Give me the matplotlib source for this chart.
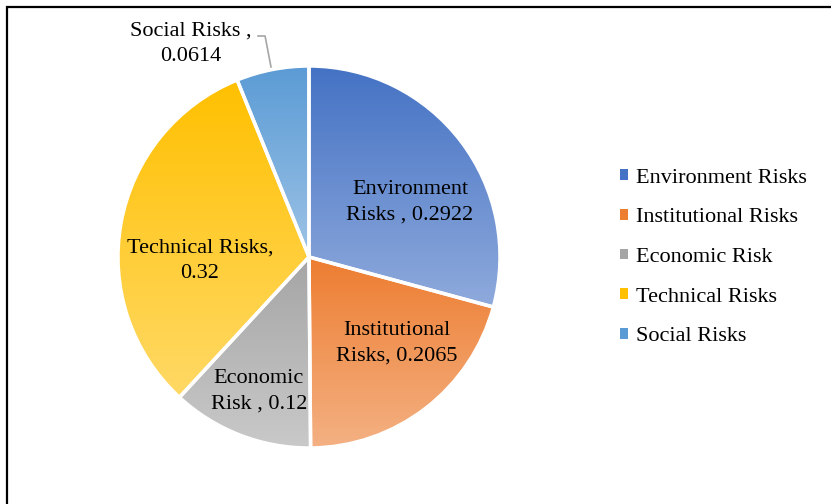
import numpy as np
import matplotlib
matplotlib.use('Agg')
import matplotlib.pyplot as plt
from matplotlib.colors import LinearSegmentedColormap
from matplotlib.patches import Patch, Rectangle
from matplotlib.lines import Line2D

# data
categories = ['Environment Risks', 'Institutional Risks', 'Economic Risk', 'Technical Risks', 'Social Risks']
values = [0.2922, 0.2065, 0.12, 0.32, 0.0614]
slice_labels = ['Environment\nRisks , 0.2922', 'Institutional\nRisks, 0.2065',
                'Economic\nRisk , 0.12', 'Technical Risks,\n0.32', 'Social Risks ,\n0.0614']
# gradient colours top -> bottom
top_colors = ['#4472C4', '#ED7D31', '#A5A5A5', '#FFC000', '#5B9BD5']
bottom_colors = ['#8FAADC', '#F4B183', '#C9C9C9', '#FFD966', '#9DC3E6']

plt.rcParams['font.family'] = ['Liberation Serif', 'DejaVu Serif']
fs = 16

W, H = 831, 504
fig = plt.figure(figsize=(W / 100, H / 100), dpi=100)

# pie centre (309,257) px, radius 191 px
R = 191
half = 200
ax = fig.add_axes([(309 - half) / W, (H - 257 - half) / H, 2 * half / W, 2 * half / H])
ax.set_aspect('equal')
ax.axis('off')

wedges, _ = ax.pie(values, startangle=90, counterclock=False, radius=1,
                   wedgeprops=dict(edgecolor='white', linewidth=2.5, facecolor='none'))

for w, c0, c1 in zip(wedges, top_colors, bottom_colors):
    ext = w.get_path().get_extents()
    cmap = LinearSegmentedColormap.from_list('g', [c1, c0])
    grad = np.linspace(0, 1, 256).reshape(-1, 1)
    im = ax.imshow(grad, cmap=cmap, extent=[ext.x0, ext.x1, ext.y0, ext.y1],
                   origin='lower', aspect='auto', zorder=0.5, interpolation='bilinear')
    im.set_clip_path(w)
    w.set_zorder(1)

lim = half / R
ax.set_xlim(-lim, lim)
ax.set_ylim(-lim, lim)

# data labels (positions relative to pie radius)
label_pos = [(0.529, 0.288), (0.461, -0.450), (-0.262, -0.702), (-0.571, -0.021), (-0.618, 1.115)]
for (x, y), t in zip(label_pos, slice_labels):
    ax.text(x, y, t, ha='center', va='center', fontsize=fs, linespacing=1.48, zorder=3)

# leader line for Social Risks
ax.add_line(Line2D([-0.267, -0.230, -0.199], [1.157, 1.157, 0.995],
                   color='#A6A6A6', lw=1.2, zorder=3, clip_on=False))

# legend
handles = [Patch(facecolor=c, edgecolor='none') for c in top_colors]
fig.legend(handles, categories, loc='center left', bbox_to_anchor=(620 / W, 1 - 257.5 / H),
           frameon=False, fontsize=fs, handlelength=0.35, handleheight=0.35,
           handletextpad=0.35, labelspacing=0.93, borderpad=0, borderaxespad=0)

# outer frame
fig.patches.append(Rectangle((6.5 / W, -0.1), 1.1, 1 - 7.5 / H + 0.1, transform=fig.transFigure,
                             fill=False, edgecolor='black', lw=1.6))

fig.savefig('out.png', dpi=100)
